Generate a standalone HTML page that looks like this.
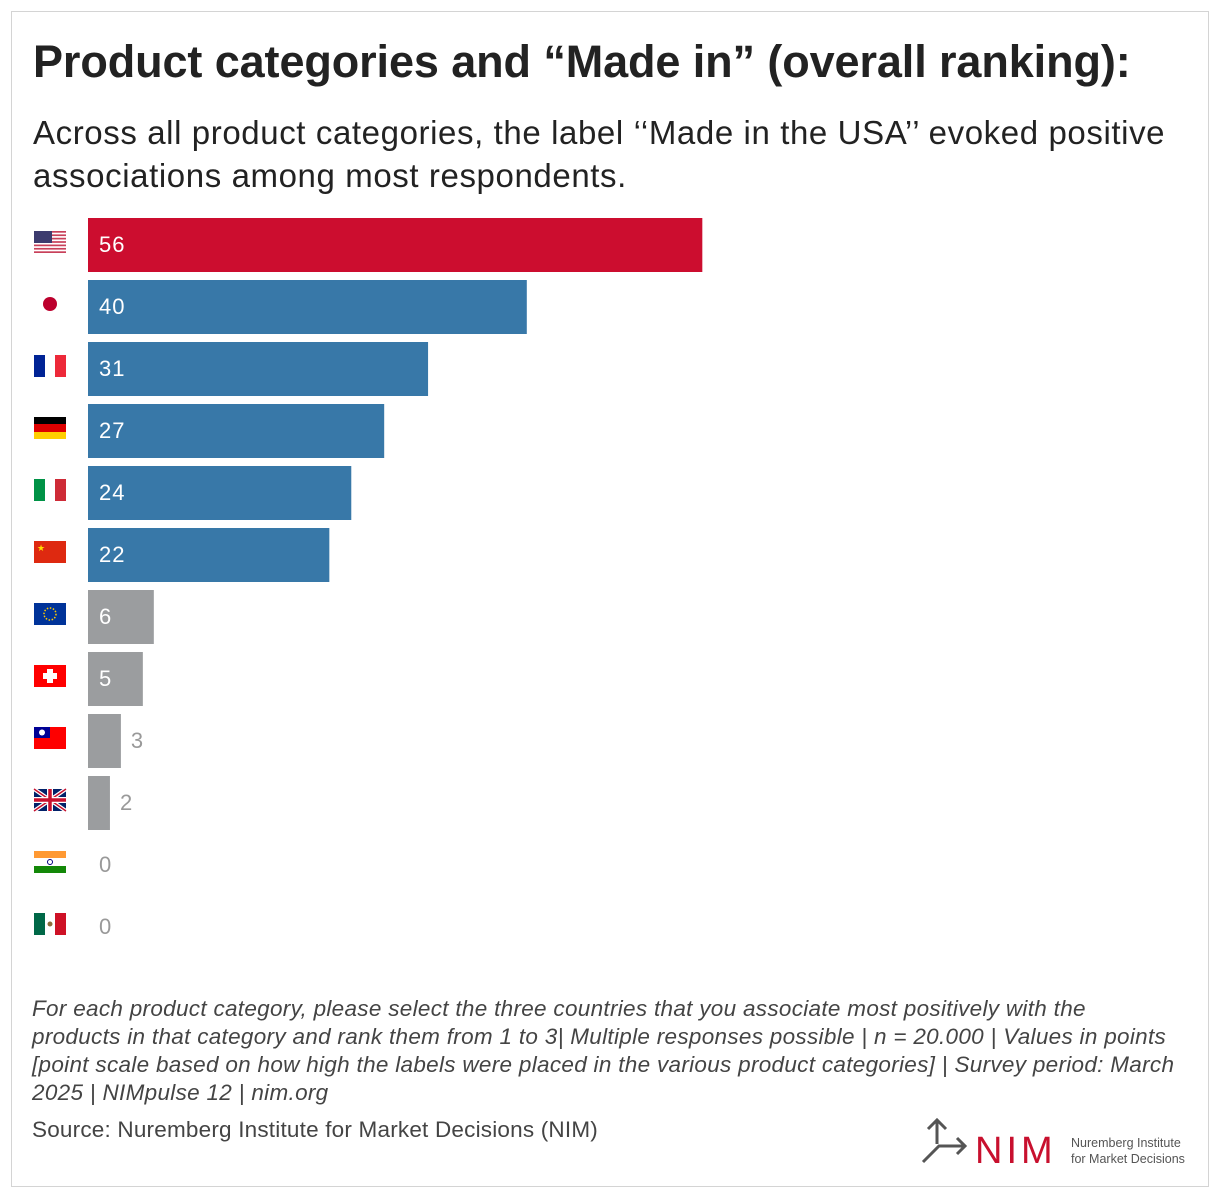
<!DOCTYPE html>
<html><head><meta charset="utf-8"><style>
body{margin:0;background:#fff;font-family:"Liberation Sans",sans-serif;}
#frame{position:absolute;left:11px;top:11px;width:1196px;height:1174px;border:1px solid #d4d4d4;}
h1{position:absolute;left:33px;top:36px;margin:0;font-size:45px;font-weight:bold;color:#222;letter-spacing:-0.1px;}
#sub{position:absolute;left:33px;top:111px;margin:0;font-size:33px;line-height:43px;color:#222;width:1170px;letter-spacing:0.6px;}
#note{position:absolute;left:32px;top:995px;font-size:22.5px;line-height:28px;font-style:italic;color:#444;letter-spacing:0.3px;white-space:nowrap;}
#src{position:absolute;left:32px;top:1117px;font-size:22.5px;color:#444;letter-spacing:0.2px;}
</style></head><body>
<div id="frame"></div>
<h1>Product categories and “Made in” (overall ranking):</h1>
<p id="sub">Across all product categories, the label ‘‘Made in the USA’’ evoked positive associations among most respondents.</p>
<svg id="chart" width="1220" height="1198" style="position:absolute;left:0;top:0"></svg>
<div id="note">For each product category, please select the three countries that you associate most positively with the<br>products in that category and rank them from 1 to 3| Multiple responses possible | n = 20.000 | Values in points<br>[point scale based on how high the labels were placed in the various product categories] | Survey period: March<br>2025 | NIMpulse 12 | nim.org</div>
<div id="src">Source: Nuremberg Institute for Market Decisions (NIM)</div>
<svg width="280" height="60" style="position:absolute;left:915px;top:1110px">
<g stroke="#555" stroke-width="3" fill="none"><path d="M22 10 V34"/><path d="M13 19 L22 10 L31 19"/><path d="M8 52 L24 36 H50"/><path d="M42 28 L50 36 L42 44"/></g>
<text x="60" y="53" font-size="38" fill="#c8102e" font-family="Liberation Sans" letter-spacing="4">NIM</text>
<text x="156" y="37" font-size="12.5" fill="#555">Nuremberg Institute</text>
<text x="156" y="53" font-size="12.5" fill="#555">for Market Decisions</text>
</svg>
<script>
const countries=["USA","Japan","France","Germany","Italy","China","EU","Switzerland","Taiwan","UK","India","Mexico"];
const values=[56,40,31,27,24,22,6,5,3,2,0,0];
const groups=["us","top","top","top","top","top","other","other","other","other","other","other"];
const svg=document.getElementById('chart');
const NS="http://www.w3.org/2000/svg";
const x0=88,k=10.97,y0=218,pitch=62,bh=54;
const xs=v=>v*k, ys=i=>y0+i*pitch;
const col={us:"#cc0d2f",top:"#3878a8",other:"#9b9d9f"};
function mk(t,a){const e=document.createElementNS(NS,t);for(const n in a)e.setAttribute(n,a[n]);svg.appendChild(e);return e;}
const flags=[
 (x,y)=>{let s='';for(let j=0;j<7;j++)s+=`<rect x="${x}" y="${y+j*22/6.5}" width="32" height="${22/13}" fill="#c8405a"/>`;return `<rect x="${x}" y="${y}" width="32" height="22" fill="#fff"/>`+s+`<rect x="${x}" y="${y}" width="18" height="12" fill="#3c3b6e"/>`;},
 (x,y)=>`<circle cx="${x+16}" cy="${y+11}" r="7" fill="#bc002d"/>`,
 (x,y)=>`<rect x="${x}" y="${y}" width="11" height="22" fill="#002395"/><rect x="${x+21}" y="${y}" width="11" height="22" fill="#ed2939"/>`,
 (x,y)=>`<rect x="${x}" y="${y}" width="32" height="8" fill="#000"/><rect x="${x}" y="${y+7}" width="32" height="8" fill="#dd0000"/><rect x="${x}" y="${y+15}" width="32" height="7" fill="#ffce00"/>`,
 (x,y)=>`<rect x="${x}" y="${y}" width="11" height="22" fill="#009246"/><rect x="${x+21}" y="${y}" width="11" height="22" fill="#ce2b37"/>`,
 (x,y)=>`<rect x="${x}" y="${y}" width="32" height="22" fill="#de2910"/><text x="${x+3}" y="${y+10}" font-size="9" fill="#ffde00">★</text>`,
 (x,y)=>`<rect x="${x}" y="${y}" width="32" height="22" fill="#003399"/><circle cx="${x+16}" cy="${y+11}" r="6" fill="none" stroke="#ffcc00" stroke-width="1.5" stroke-dasharray="1.5 1.6"/>`,
 (x,y)=>`<rect x="${x}" y="${y}" width="32" height="22" fill="#ff0000"/><rect x="${x+13}" y="${y+4}" width="6" height="14" fill="#fff"/><rect x="${x+9}" y="${y+8}" width="14" height="6" fill="#fff"/>`,
 (x,y)=>`<rect x="${x}" y="${y}" width="32" height="22" fill="#fe0000"/><rect x="${x}" y="${y}" width="16" height="11" fill="#000095"/><circle cx="${x+8}" cy="${y+5.5}" r="3" fill="#fff"/>`,
 (x,y)=>`<rect x="${x}" y="${y}" width="32" height="22" fill="#012169"/><path d="M${x} ${y}L${x+32} ${y+22}M${x+32} ${y}L${x} ${y+22}" stroke="#fff" stroke-width="4"/><path d="M${x} ${y}L${x+32} ${y+22}M${x+32} ${y}L${x} ${y+22}" stroke="#c8102e" stroke-width="1.5"/><path d="M${x+16} ${y}V${y+22}M${x} ${y+11}H${x+32}" stroke="#fff" stroke-width="6"/><path d="M${x+16} ${y}V${y+22}M${x} ${y+11}H${x+32}" stroke="#c8102e" stroke-width="3.5"/>`,
 (x,y)=>`<rect x="${x}" y="${y}" width="32" height="8" fill="#ff9933"/><rect x="${x}" y="${y+7}" width="32" height="8" fill="#fff"/><rect x="${x}" y="${y+15}" width="32" height="7" fill="#138808"/><circle cx="${x+16}" cy="${y+11}" r="2.5" fill="none" stroke="#000080"/>`,
 (x,y)=>`<rect x="${x}" y="${y}" width="11" height="22" fill="#006847"/><rect x="${x+21}" y="${y}" width="11" height="22" fill="#ce1126"/><circle cx="${x+16}" cy="${y+11}" r="2.5" fill="#8c6d3a"/>`
];
values.forEach((v,i)=>{
  const y=ys(i);
  const g=document.createElementNS(NS,'g');g.innerHTML=flags[i](34,y+13);svg.appendChild(g);
  
  
  if(v>0){const r=mk('rect',{x:x0,y:y,width:xs(v),height:bh,fill:col[groups[i]]});
    
    }
  const inside=xs(v)>45;
  const t=mk('text',{x:inside?x0+11:(v>0?x0+xs(v)+10:x0+11),y:y+bh/2+7,'font-size':22,fill:inside?'#fff':'#999','font-family':'Liberation Sans','letter-spacing':1});
  t.textContent=v;
  
  
});
</script>
</body></html>
